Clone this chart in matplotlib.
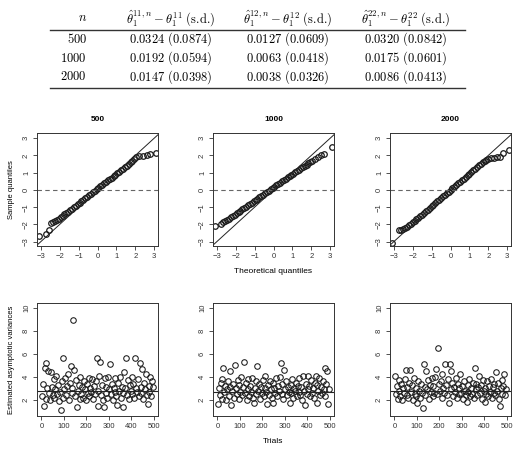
import matplotlib.pyplot as plt
from matplotlib.lines import Line2D

# ---- table data ----
table_n = ["500", "1000", "2000"]
table_headers = [r"$\hat{\theta}_1^{11,n}-\theta_1^{11}\ \text{(s.d.)}$",
                 r"$\hat{\theta}_1^{12,n}-\theta_1^{12}\ \text{(s.d.)}$",
                 r"$\hat{\theta}_1^{22,n}-\theta_1^{22}\ \text{(s.d.)}$"]
table_rows = [["0.0324 (0.0874)", "0.0127 (0.0609)", "0.0320 (0.0842)"],
              ["0.0192 (0.0594)", "0.0063 (0.0418)", "0.0175 (0.0601)"],
              ["0.0147 (0.0398)", "0.0038 (0.0326)", "0.0086 (0.0413)"]]

# ---- QQ plot data (theoretical, sample) ----
theo_500 = [-3.09, -2.75, -2.55, -2.45, -2.35, -2.25, -2.15, -2.05, -1.95, -1.85, -1.75, -1.65, -1.55, -1.45,
            -1.35, -1.25, -1.15, -1.05, -0.95, -0.85, -0.75, -0.65, -0.55, -0.45, -0.35, -0.25, -0.15, -0.05,
            0.05, 0.15, 0.25, 0.35, 0.45, 0.55, 0.65, 0.75, 0.85, 0.95, 1.05, 1.15, 1.25, 1.35, 1.45, 1.55,
            1.65, 1.75, 1.85, 1.95, 2.05, 2.20, 2.40, 2.60, 2.80, 3.09]
samp_500 = [-2.65, -2.55, -2.30, -1.92, -1.88, -1.80, -1.72, -1.66, -1.58, -1.50, -1.42, -1.35, -1.27, -1.18,
            -1.10, -1.00, -0.92, -0.83, -0.75, -0.66, -0.57, -0.49, -0.40, -0.31, -0.22, -0.13, -0.05, 0.04,
            0.13, 0.21, 0.30, 0.38, 0.47, 0.55, 0.64, 0.72, 0.81, 0.89, 0.98, 1.06, 1.15, 1.23, 1.32, 1.41,
            1.50, 1.60, 1.70, 1.82, 1.90, 1.95, 1.98, 2.02, 2.06, 2.15]

theo_1000 = [-3.09, -2.80, -2.65, -2.55, -2.45, -2.35, -2.25, -2.15, -2.05, -1.95, -1.85, -1.75, -1.65, -1.55,
             -1.45, -1.35, -1.25, -1.15, -1.05, -0.95, -0.85, -0.75, -0.65, -0.55, -0.45, -0.35, -0.25, -0.15,
             -0.05, 0.05, 0.15, 0.25, 0.35, 0.45, 0.55, 0.65, 0.75, 0.85, 0.95, 1.05, 1.15, 1.25, 1.35, 1.45,
             1.55, 1.65, 1.75, 1.85, 1.95, 2.05, 2.20, 2.35, 2.50, 2.65, 3.09]
samp_1000 = [-2.08, -1.95, -1.85, -1.80, -1.74, -1.68, -1.58, -1.50, -1.43, -1.36, -1.28, -1.20, -1.12, -1.04,
             -0.97, -0.89, -0.81, -0.74, -0.66, -0.58, -0.51, -0.43, -0.35, -0.27, -0.20, -0.12, -0.04, 0.04,
             0.11, 0.19, 0.27, 0.35, 0.42, 0.50, 0.58, 0.65, 0.73, 0.80, 0.88, 0.95, 1.03, 1.10, 1.18, 1.25,
             1.32, 1.40, 1.47, 1.55, 1.62, 1.70, 1.80, 1.90, 2.00, 2.08, 2.48]

theo_2000 = [-3.09, -2.75, -2.60, -2.50, -2.40, -2.30, -2.20, -2.10, -2.00, -1.90, -1.80, -1.70, -1.60, -1.50,
             -1.40, -1.30, -1.20, -1.10, -1.00, -0.90, -0.80, -0.70, -0.60, -0.50, -0.40, -0.30, -0.20, -0.10,
             0.00, 0.10, 0.20, 0.30, 0.40, 0.50, 0.60, 0.70, 0.80, 0.90, 1.00, 1.10, 1.20, 1.30, 1.40, 1.50,
             1.60, 1.70, 1.80, 1.90, 2.00, 2.15, 2.30, 2.45, 2.60, 2.80, 3.09]
samp_2000 = [-3.08, -2.35, -2.30, -2.25, -2.20, -2.12, -2.05, -1.97, -1.88, -1.80, -1.71, -1.62, -1.52, -1.43,
             -1.33, -1.24, -1.14, -1.05, -0.95, -0.86, -0.76, -0.67, -0.57, -0.48, -0.38, -0.29, -0.19, -0.10,
             0.00, 0.09, 0.19, 0.28, 0.38, 0.47, 0.57, 0.66, 0.76, 0.85, 0.95, 1.04, 1.14, 1.23, 1.33, 1.42,
             1.52, 1.61, 1.70, 1.76, 1.80, 1.83, 1.86, 1.88, 1.92, 2.15, 2.30]

# ---- estimated asymptotic variances (every 4th trial) ----
trials = list(range(2, 502, 4))
var_500 = [2.3, 3.4, 1.45, 4.8, 5.2, 2.1, 3.0, 4.5, 2.6, 2.0,
           4.4, 3.1, 2.4, 3.8, 2.2, 2.9, 4.1, 2.5, 3.3, 1.9,
           2.7, 1.13, 3.6, 2.2, 5.6, 2.9, 3.9, 2.4, 3.2, 4.2,
           2.0, 3.5, 4.95, 2.6, 3.0, 8.94, 4.6, 2.3, 3.7, 1.36,
           2.8, 3.3, 2.1, 4.0, 2.5, 3.1, 2.2, 3.6, 2.9, 2.0,
           3.4, 2.6, 3.9, 2.3, 3.0, 2.7, 3.8, 2.1, 3.2, 2.5,
           3.6, 5.6, 1.48, 2.8, 4.1, 5.3, 2.4, 3.3, 2.0, 1.36,
           3.9, 2.6, 3.1, 2.2, 4.0, 2.9, 5.1, 2.5, 3.4, 2.0,
           3.0, 2.7, 3.9, 2.3, 1.57, 3.5, 2.8, 4.0, 2.2, 3.1,
           2.6, 1.42, 4.4, 3.0, 5.6, 2.4, 3.7, 2.1, 3.3, 2.8,
           4.0, 2.5, 3.4, 2.2, 5.6, 3.0, 2.7, 3.8, 2.3, 5.2,
           3.1, 2.6, 4.7, 2.1, 3.5, 2.9, 4.2, 2.4, 1.62, 3.2,
           2.7, 4.0, 2.3, 3.6, 3.1]
var_1000 = [1.6, 3.0, 2.4, 3.5, 2.1, 3.8, 4.8, 2.7, 3.2, 2.0,
            2.9, 3.6, 2.3, 3.1, 4.5, 1.55, 2.8, 3.4, 2.2, 5.0,
            3.0, 2.5, 3.7, 2.1, 3.3, 2.7, 4.0, 2.4, 3.1, 5.3,
            2.6, 3.5, 2.0, 2.9, 3.8, 2.3, 3.2, 2.7, 3.9, 2.2,
            1.7, 3.0, 3.6, 2.5, 4.95, 2.8, 3.4, 2.1, 3.1, 2.6,
            3.7, 2.3, 3.0, 4.1, 2.7, 1.6, 3.3, 2.4, 3.6, 2.9,
            2.2, 3.5, 1.75, 3.0, 2.6, 3.9, 2.3, 3.2, 2.8, 4.0,
            5.2, 2.5, 3.4, 2.1, 4.6, 2.9, 3.6, 2.4, 3.1, 2.7,
            1.7, 3.3, 2.6, 3.8, 2.2, 3.0, 2.8, 3.5, 2.3, 3.2,
            2.7, 3.9, 2.4, 3.1, 2.0, 4.1, 2.8, 1.55, 3.4, 2.5,
            4.1, 2.9, 3.2, 2.3, 3.7, 2.6, 3.0, 2.2, 3.5, 4.1,
            1.7, 3.3, 2.8, 3.9, 2.4, 3.1, 2.6, 3.6, 2.9, 4.8,
            2.3, 3.4, 4.5, 1.6, 2.9]
var_2000 = [4.1, 2.5, 3.2, 2.1, 3.7, 2.8, 2.3, 3.4, 2.0, 3.0,
            2.6, 3.8, 4.6, 2.4, 3.1, 2.2, 3.5, 4.6, 2.7, 3.3,
            2.0, 3.9, 2.5, 3.0, 2.3, 1.7, 3.6, 2.8, 2.2, 3.4,
            2.6, 1.28, 5.1, 3.1, 2.4, 4.5, 2.9, 3.7, 2.1, 3.3,
            2.7, 3.9, 2.3, 3.2, 2.6, 4.0, 4.7, 2.5, 6.5, 3.4,
            2.8, 3.6, 2.2, 4.2, 3.0, 2.6, 5.1, 3.3, 2.4, 3.8,
            1.75, 5.1, 4.5, 2.9, 3.5, 2.3, 3.1, 2.7, 3.9, 2.2,
            3.4, 2.5, 3.0, 4.2, 2.6, 3.2, 2.1, 3.6, 2.8, 2.4,
            1.8, 3.3, 2.7, 3.8, 2.3, 3.0, 2.5, 3.5, 2.2, 4.8,
            2.9, 3.4, 2.4, 3.1, 4.1, 2.6, 3.3, 2.1, 3.7, 2.8,
            1.8, 3.0, 2.5, 3.6, 2.3, 3.2, 2.7, 3.8, 2.2, 3.1,
            2.6, 3.4, 2.4, 4.4, 2.8, 3.5, 2.1, 1.5, 3.0, 3.7,
            2.5, 3.2, 4.2, 2.4, 2.9]
ref_levels = [2.8, 2.7, 2.8]

titles = ["500", "1000", "2000"]

plt.rcParams['mathtext.fontset'] = 'cm'
plt.rcParams['font.family'] = ['Liberation Sans', 'DejaVu Sans']

W, H = 520, 449
fig = plt.figure(figsize=(W / 100, H / 100), dpi=100)


def fx(px):
    return px / W


def fy(py):
    return 1 - py / H


# table
tsize = 9
fig.text(fx(83), fy(18), r"$n$", ha="center", va="center", fontsize=tsize)
col_x = [171, 288, 406]
for j in range(3):
    fig.text(fx(col_x[j]), fy(18), table_headers[j], ha="center", va="center", fontsize=tsize)
row_y = [39, 58, 77]
for i in range(3):
    fig.text(fx(87), fy(row_y[i]), "$" + table_n[i] + "$", ha="right", va="center", fontsize=tsize)
    for j in range(3):
        txt = "$" + table_rows[i][j].replace(" ", r"\ ") + "$"
        fig.text(fx(col_x[j]), fy(row_y[i]), txt, ha="center", va="center", fontsize=tsize)
for yy in (29.5, 88):
    fig.add_artist(Line2D([fx(50), fx(465)], [fy(yy), fy(yy)], color="#333333", lw=1.0))

lefts = [37, 213, 390]
aw = 121 / W
ah = 113 / H
top_bottom = fy(246)
bot_bottom = fy(416)

qq = [(theo_500, samp_500), (theo_1000, samp_1000), (theo_2000, samp_2000)]
vars_ = [var_500, var_1000, var_2000]


def style(ax):
    for s in ax.spines.values():
        s.set_linewidth(0.7)
        s.set_color("#333333")
    ax.tick_params(labelsize=5.5, length=3, width=0.6, pad=2, colors="#333333")
    ax.tick_params(axis="y", labelrotation=90)
    for lab in ax.get_yticklabels():
        lab.set_va("center")


for k in range(3):
    ax = fig.add_axes([fx(lefts[k]), top_bottom, aw, ah])
    th, sa = qq[k]
    ax.plot(th, sa, "o", mfc="none", mec="#1a1a1a", ms=4.0, mew=0.9)
    ax.plot([-3.5, 3.5], [-3.5, 3.5], color="#222222", lw=0.7)
    ax.axhline(0, color="#666666", ls=(0, (4, 3)), lw=0.8)
    ax.set_xlim(-3.2, 3.2)
    ax.set_ylim(-3.25, 3.3)
    ax.set_xticks(range(-3, 4))
    ax.set_yticks(range(-3, 4))
    ax.set_title(titles[k], fontsize=6, fontweight="bold", pad=9)
    style(ax)
    if k == 0:
        ax.set_ylabel("Sample quantiles", fontsize=5.5, labelpad=6)
    if k == 1:
        ax.set_xlabel("Theoretical quantiles", fontsize=6, labelpad=6)

    ax2 = fig.add_axes([fx(lefts[k]), bot_bottom, aw, ah])
    ax2.plot(trials, vars_[k], "o", mfc="none", mec="#1a1a1a", ms=4.0, mew=0.75)
    ax2.axhline(ref_levels[k], color="#222222", lw=0.8)
    ax2.set_xlim(-20, 520)
    ax2.set_ylim(0.6, 10.4)
    ax2.set_xticks([0, 100, 200, 300, 400, 500])
    ax2.set_yticks([2, 4, 6, 8, 10])
    style(ax2)
    if k == 0:
        ax2.set_ylabel("Estimated asymptotic variances", fontsize=5.5, labelpad=6)
    if k == 1:
        ax2.set_xlabel("Trials", fontsize=6, labelpad=6)

fig.savefig("out.png", dpi=100)
